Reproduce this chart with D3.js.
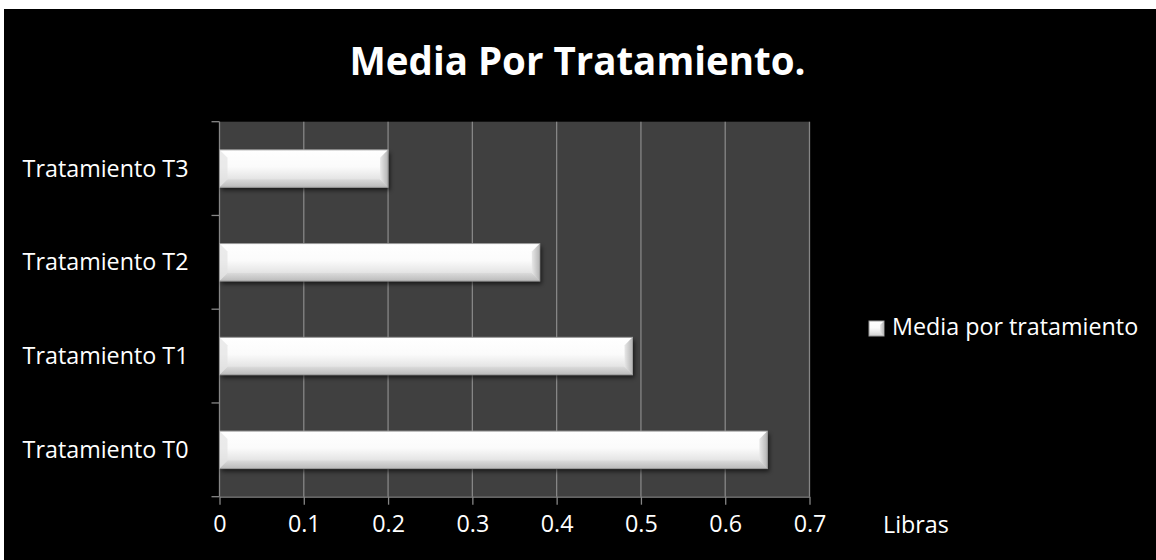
<!DOCTYPE html>
<html>
<head>
<meta charset="utf-8">
<script src="https://cdn.jsdelivr.net/npm/d3@7"></script>
<style>
  body { margin: 0; background: #fff; }
  text { font-family: "Open Sans", Lato, sans-serif; fill: #fff; }
</style>
</head>
<body>
<div id="chart"></div>
<script>
// data
const categories = ["Tratamiento T0", "Tratamiento T1", "Tratamiento T2", "Tratamiento T3"];
const values = [0.65, 0.49, 0.38, 0.2];
const xTicks = [0, 0.1, 0.2, 0.3, 0.4, 0.5, 0.6, 0.7];
const xTickLabels = ["0", "0.1", "0.2", "0.3", "0.4", "0.5", "0.6", "0.7"];
const seriesName = "Media por tratamiento";
const chartTitle = "Media Por Tratamiento.";
const xTitle = "Libras";

const width = 1156, height = 560;
const margin = ({top: 121.7, right: 346.5, bottom: 63.3, left: 219.5});
const fontSize = 23.3;

const rows = categories.map((c, i) => ({cat: c, val: values[i]}));

const svg = d3.select("#chart").append("svg")
    .attr("width", width)
    .attr("height", height)
    .attr("viewBox", [0, 0, width, height]);

const defs = svg.append("defs");

// bevel look for the bars
const gV = defs.append("linearGradient").attr("id", "barV")
    .attr("x1", 0).attr("y1", 0).attr("x2", 0).attr("y2", 1);
gV.append("stop").attr("offset", "0%").attr("stop-color", "#ffffff");
gV.append("stop").attr("offset", "45%").attr("stop-color", "#fbfbfb");
gV.append("stop").attr("offset", "75%").attr("stop-color", "#e6e6e6");
gV.append("stop").attr("offset", "100%").attr("stop-color", "#cfcfcf");

const gR = defs.append("linearGradient").attr("id", "barR")
    .attr("x1", 0).attr("y1", 0).attr("x2", 1).attr("y2", 0);
gR.append("stop").attr("offset", "0%").attr("stop-color", "#e8e8e8");
gR.append("stop").attr("offset", "100%").attr("stop-color", "#b4b4b4");

const gB = defs.append("linearGradient").attr("id", "barB")
    .attr("x1", 0).attr("y1", 0).attr("x2", 0).attr("y2", 1);
gB.append("stop").attr("offset", "0%").attr("stop-color", "#d4d4d4");
gB.append("stop").attr("offset", "100%").attr("stop-color", "#a9a9a9");

const shadow = defs.append("filter").attr("id", "shadow")
    .attr("x", "-5%").attr("y", "-30%").attr("width", "110%").attr("height", "170%");
shadow.append("feGaussianBlur").attr("stdDeviation", 2);

// background
svg.append("rect")
    .attr("x", 4).attr("y", 9)
    .attr("width", width - 4).attr("height", height - 9)
    .attr("fill", "#000");

const x = d3.scaleLinear()
    .domain([0, 0.7])
    .range([margin.left, width - margin.right]);

const y = d3.scaleBand()
    .domain(categories.slice().reverse())
    .range([margin.top, height - margin.bottom])
    .paddingInner(0.6)
    .paddingOuter(0.3);

// plot area
svg.append("rect")
    .attr("x", margin.left).attr("y", margin.top)
    .attr("width", x(0.7) - x(0))
    .attr("height", height - margin.bottom - margin.top)
    .attr("fill", "#404040");

// vertical grid
svg.append("g")
    .selectAll("line")
    .data(xTicks.slice(1))
    .join("line")
      .attr("x1", d => x(d)).attr("x2", d => x(d))
      .attr("y1", margin.top).attr("y2", height - margin.bottom)
      .attr("stroke", "#868686")
      .attr("stroke-width", 1.3);

// x axis
const xAxis = svg.append("g")
    .attr("transform", `translate(0,${height - margin.bottom})`)
    .call(d3.axisBottom(x).tickValues(xTicks).tickFormat((d, i) => xTickLabels[i])
      .tickSizeInner(8).tickSizeOuter(0).tickPadding(11));
xAxis.select(".domain").attr("stroke", "#868686").attr("stroke-width", 1.3);
xAxis.selectAll(".tick line").attr("stroke", "#868686").attr("stroke-width", 1.3);
xAxis.selectAll(".tick text")
    .attr("font-size", fontSize)
    .attr("font-family", "'Open Sans', sans-serif")
    .attr("fill", "#fff");

// y axis: ticks sit between categories
const yEdges = y.domain().map(c => y(c) - y.step() * y.paddingOuter())
    .concat([height - margin.bottom]);
svg.append("line")
    .attr("x1", margin.left).attr("x2", margin.left)
    .attr("y1", margin.top).attr("y2", height - margin.bottom)
    .attr("stroke", "#868686").attr("stroke-width", 1.3);
svg.append("g")
    .selectAll("line")
    .data(yEdges)
    .join("line")
      .attr("x1", margin.left - 8).attr("x2", margin.left)
      .attr("y1", d => d).attr("y2", d => d)
      .attr("stroke", "#868686").attr("stroke-width", 1.3);

svg.append("g")
    .selectAll("text")
    .data(categories)
    .join("text")
      .attr("x", margin.left - 31)
      .attr("y", d => y(d) + y.bandwidth() / 2)
      .attr("dy", "0.35em")
      .attr("text-anchor", "end")
      .attr("font-size", fontSize)
      .text(d => d);

// bars
const bev = 8;
const bars = svg.append("g")
    .selectAll("g")
    .data(rows)
    .join("g");

bars.append("rect")
    .attr("x", x(0) + 2)
    .attr("y", d => y(d.cat) + 3)
    .attr("width", d => x(d.val) - x(0))
    .attr("height", y.bandwidth())
    .attr("fill", "#000")
    .attr("opacity", 0.6)
    .attr("filter", "url(#shadow)");

bars.append("rect")
    .attr("x", x(0))
    .attr("y", d => y(d.cat))
    .attr("width", d => x(d.val) - x(0))
    .attr("height", y.bandwidth())
    .attr("fill", "url(#barV)");

// bottom bevel
bars.append("polygon")
    .attr("points", d => {
      const x0 = x(0), x1 = x(d.val), y1 = y(d.cat) + y.bandwidth();
      return [[x0, y1], [x0 + bev, y1 - bev], [x1 - bev, y1 - bev], [x1, y1]].join(" ");
    })
    .attr("fill", "url(#barB)")
    .attr("opacity", 0.55);

// right bevel
bars.append("polygon")
    .attr("points", d => {
      const x1 = x(d.val), y0 = y(d.cat), y1 = y0 + y.bandwidth();
      return [[x1 - bev, y0 + bev], [x1, y0], [x1, y1], [x1 - bev, y1 - bev]].join(" ");
    })
    .attr("fill", "url(#barR)");

// left bevel
bars.append("polygon")
    .attr("points", d => {
      const x0 = x(0), y0 = y(d.cat), y1 = y0 + y.bandwidth();
      return [[x0, y0], [x0 + bev, y0 + bev], [x0 + bev, y1 - bev], [x0, y1]].join(" ");
    })
    .attr("fill", "#e2e2e2")
    .attr("opacity", 0.7);

bars.append("rect")
    .attr("x", x(0))
    .attr("y", d => y(d.cat))
    .attr("width", d => x(d.val) - x(0))
    .attr("height", y.bandwidth())
    .attr("fill", "none")
    .attr("stroke", "#9a9a9a")
    .attr("stroke-width", 1);

// title
svg.append("text")
    .attr("x", 577.5)
    .attr("y", 75)
    .attr("text-anchor", "middle")
    .attr("font-size", 38.5)
    .attr("font-weight", "bold")
    .text(chartTitle);

// x axis title
svg.append("text")
    .attr("x", 883)
    .attr("y", 533)
    .attr("font-size", fontSize)
    .text(xTitle);

// legend
const legend = svg.append("g").attr("transform", "translate(869,321)");
legend.append("rect")
    .attr("width", 15).attr("height", 15)
    .attr("fill", "url(#barV)")
    .attr("stroke", "#9a9a9a");
legend.append("polygon")
    .attr("points", "15,0 15,15 11,11 11,4")
    .attr("fill", "url(#barR)");
legend.append("text")
    .attr("x", 23)
    .attr("y", 14)
    .attr("font-size", fontSize)
    .text(seriesName);
</script>
</body>
</html>
